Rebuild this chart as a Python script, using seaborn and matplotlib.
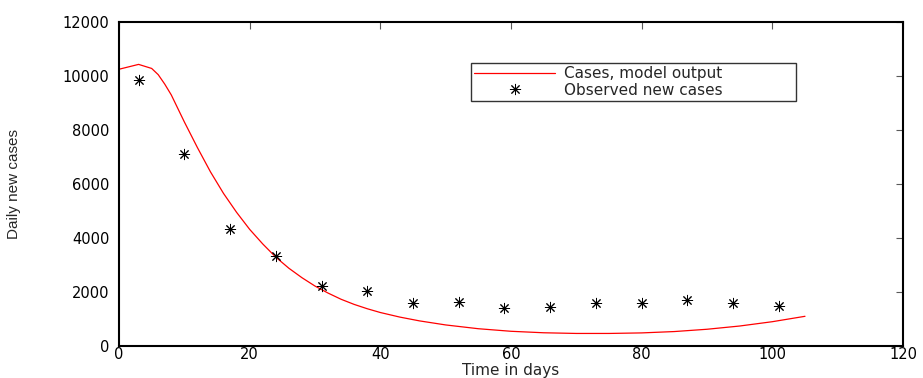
import matplotlib
matplotlib.use("Agg")
import matplotlib.pyplot as plt
import seaborn as sns
import pandas as pd

# Model output (days, daily new cases)
model_days = [0, 3, 5, 6, 7, 8, 9, 10, 12, 14, 16, 18, 20, 22, 24, 26, 28,
              30, 32, 34, 36, 38, 40, 43, 46, 50, 55, 60, 65, 70, 75, 80, 85,
              90, 95, 100, 105]
model_cases = [10250, 10430, 10280, 10050, 9700, 9300, 8800, 8300, 7350,
               6450, 5650, 4950, 4320, 3780, 3290, 2880, 2530, 2220, 1960,
               1730, 1540, 1380, 1240, 1070, 930, 780, 640, 545, 490, 465,
               465, 485, 535, 620, 740, 900, 1100]

# Observed weekly points
obs_days = [3, 10, 17, 24, 31, 38, 45, 52, 59, 66, 73, 80, 87, 94, 101]
obs_cases = [9850, 7120, 4330, 3330, 2210, 2040, 1600, 1620, 1400, 1450,
             1580, 1590, 1720, 1580, 1480]

x_ticks = [0, 20, 40, 60, 80, 100, 120]
y_ticks = [0, 2000, 4000, 6000, 8000, 10000, 12000]

sns.set_style("white")
plt.rcParams['font.family'] = ['DejaVu Sans']

fig = plt.figure(figsize=(9.23, 3.78), dpi=100)
ax = fig.add_axes([119/923, 1-346/378, 784/923, 324/378])

model_df = pd.DataFrame({"day": model_days, "cases": model_cases})
obs_df = pd.DataFrame({"day": obs_days, "cases": obs_cases})

sns.lineplot(data=model_df, x="day", y="cases", ax=ax, color="red",
             linewidth=0.9, label="Cases, model output", estimator=None)
sns.lineplot(data=obs_df, x="day", y="cases", ax=ax, linestyle="none",
             marker=(8, 2, 0), markersize=8, markeredgecolor="black",
             markeredgewidth=0.7, color="black",
             label="Observed new cases", estimator=None)

ax.set_xlim(0, 120)
ax.set_ylim(0, 12000)
ax.set_xticks(x_ticks)
ax.set_yticks(y_ticks)
ax.set_xticklabels([str(t) for t in x_ticks])
ax.set_yticklabels([str(t) for t in y_ticks])

for s in ax.spines.values():
    s.set_visible(True)
    s.set_color("black")
    s.set_linewidth(1.5)

ax.tick_params(axis="both", which="both", direction="in", length=5,
               width=0.8, color="0.35", top=True, right=True,
               labelsize=10.5, labelcolor="black")
ax.tick_params(axis="x", pad=1)
ax.tick_params(axis="y", pad=7)

ax.set_xlabel("Time in days", fontsize=11)
ax.xaxis.label.set_va("bottom")
ax.xaxis.set_label_coords(0.5, (346 - 378) / 324)
ax.set_ylabel("Daily new cases", fontsize=11, family=["Liberation Sans"])
ax.yaxis.set_label_coords(-0.125, 0.5)

leg = ax.legend(loc="upper left", bbox_to_anchor=(0.449, 0.0, 0.415, 0.873),
                mode="expand", borderaxespad=0, fontsize=11,
                handlelength=5.3, handletextpad=0.6, borderpad=0.2,
                labelspacing=0.1, frameon=True, fancybox=False,
                numpoints=1)
leg.get_frame().set_edgecolor("black")
leg.get_frame().set_linewidth(1.0)

fig.savefig("out.png", dpi=100)
